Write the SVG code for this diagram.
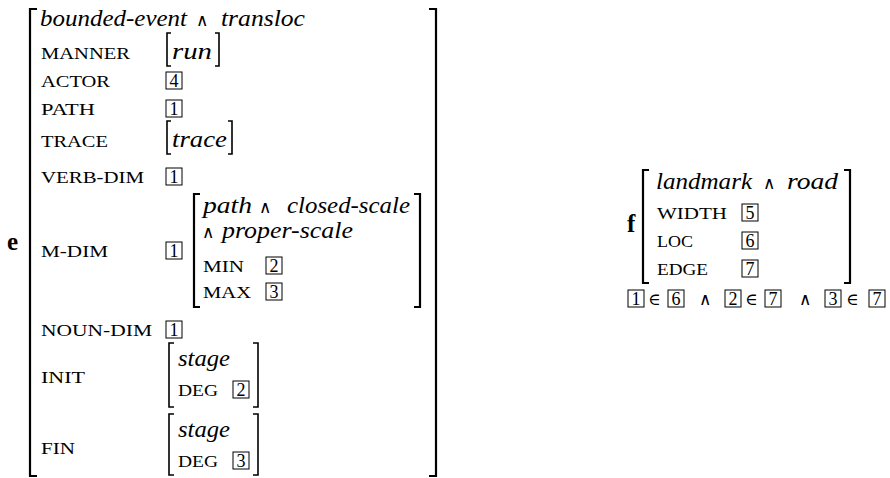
<svg xmlns="http://www.w3.org/2000/svg" width="890" height="478" viewBox="0 0 890 478">
<style>
.it{font-family:"Liberation Serif","DejaVu Serif",serif;font-style:italic;font-size:24px;fill:#000}
.sc{font-family:"Liberation Serif","DejaVu Serif",serif;font-size:17px;fill:#000}
.num{font-family:"Liberation Serif","DejaVu Serif",serif;font-size:18px;text-anchor:middle;fill:#000}
.op{font-family:"DejaVu Serif",serif;font-size:17px;fill:#000}
.el{font-family:"DejaVu Serif",serif;font-size:17px;fill:#000}
.lbl{font-family:"Liberation Serif","DejaVu Serif",serif;font-weight:bold;font-size:25px;fill:#000}
.br{fill:none;stroke:#000;stroke-width:2.2}
.brs{fill:none;stroke:#000;stroke-width:1.6}
.bx{fill:none;stroke:#000;stroke-width:1}
</style>
<defs>
<g id="b1"><rect class="bx" x="0" y="-15" width="16" height="17"/><text class="num" x="8" y="0">1</text></g>
<g id="b2"><rect class="bx" x="0" y="-15" width="16" height="17"/><text class="num" x="8" y="0">2</text></g>
<g id="b3"><rect class="bx" x="0" y="-15" width="16" height="17"/><text class="num" x="8" y="0">3</text></g>
<g id="b4"><rect class="bx" x="0" y="-15" width="16" height="17"/><text class="num" x="8" y="0">4</text></g>
<g id="b5"><rect class="bx" x="0" y="-15" width="16" height="17"/><text class="num" x="8" y="0">5</text></g>
<g id="b6"><rect class="bx" x="0" y="-15" width="16" height="17"/><text class="num" x="8" y="0">6</text></g>
<g id="b7"><rect class="bx" x="0" y="-15" width="16" height="17"/><text class="num" x="8" y="0">7</text></g>
</defs>

<g id="avm-e">
  <text class="lbl" x="7" y="250">e</text>
  <path class="br" d="M37,9 H30 V476 H37"/>
  <path class="br" d="M429,9 H436 V476 H429"/>
  <text class="it" x="40" y="26" textLength="147" lengthAdjust="spacingAndGlyphs">bounded-event</text>
  <text class="op" x="196" y="26">∧</text>
  <text class="it" x="221" y="26" textLength="84" lengthAdjust="spacingAndGlyphs">transloc</text>

  <text class="sc" x="41" y="59" textLength="89" lengthAdjust="spacingAndGlyphs">MANNER</text>
  <path class="brs" d="M171,33 H167 V66 H171"/>
  <text class="it" x="172" y="59" textLength="40" lengthAdjust="spacingAndGlyphs">run</text>
  <path class="brs" d="M215,33 H219 V66 H215"/>

  <text class="sc" x="41" y="87" textLength="69" lengthAdjust="spacingAndGlyphs">ACTOR</text>
  <use href="#b4" x="166" y="87"/>

  <text class="sc" x="41" y="115" textLength="54" lengthAdjust="spacingAndGlyphs">PATH</text>
  <use href="#b1" x="166" y="115"/>

  <text class="sc" x="41" y="147" textLength="67" lengthAdjust="spacingAndGlyphs">TRACE</text>
  <path class="brs" d="M171,121 H167 V154 H171"/>
  <text class="it" x="172" y="147" textLength="55" lengthAdjust="spacingAndGlyphs">trace</text>
  <path class="brs" d="M228,121 H232 V154 H228"/>

  <text class="sc" x="41" y="183" textLength="103" lengthAdjust="spacingAndGlyphs">VERB-DIM</text>
  <use href="#b1" x="166" y="183"/>

  <text class="sc" x="41" y="257" textLength="67" lengthAdjust="spacingAndGlyphs">M-DIM</text>
  <use href="#b1" x="166" y="257"/>
  <path class="br" d="M200,194 H194 V307 H200"/>
  <path class="br" d="M414,194 H420 V307 H414"/>
  <text class="it" x="203" y="213" textLength="49" lengthAdjust="spacingAndGlyphs">path</text>
  <text class="op" x="259" y="213">∧</text>
  <text class="it" x="287" y="213" textLength="123" lengthAdjust="spacingAndGlyphs">closed-scale</text>
  <text class="op" x="202" y="238">∧</text>
  <text class="it" x="222" y="238" textLength="131" lengthAdjust="spacingAndGlyphs">proper-scale</text>
  <text class="sc" x="203" y="272" textLength="41" lengthAdjust="spacingAndGlyphs">MIN</text>
  <use href="#b2" x="266" y="272"/>
  <text class="sc" x="203" y="298" textLength="48" lengthAdjust="spacingAndGlyphs">MAX</text>
  <use href="#b3" x="266" y="298"/>

  <text class="sc" x="41" y="336" textLength="111" lengthAdjust="spacingAndGlyphs">NOUN-DIM</text>
  <use href="#b1" x="166" y="336"/>

  <text class="sc" x="41" y="383" textLength="44" lengthAdjust="spacingAndGlyphs">INIT</text>
  <path class="brs" d="M174,343 H169 V407 H174"/>
  <path class="brs" d="M253,343 H258 V407 H253"/>
  <text class="it" x="178" y="366" textLength="52" lengthAdjust="spacingAndGlyphs">stage</text>
  <text class="sc" x="178" y="396" textLength="40" lengthAdjust="spacingAndGlyphs">DEG</text>
  <use href="#b2" x="233" y="396"/>

  <text class="sc" x="41" y="454" textLength="34" lengthAdjust="spacingAndGlyphs">FIN</text>
  <path class="brs" d="M174,414 H169 V475 H174"/>
  <path class="brs" d="M253,414 H258 V475 H253"/>
  <text class="it" x="178" y="437" textLength="52" lengthAdjust="spacingAndGlyphs">stage</text>
  <text class="sc" x="178" y="467" textLength="40" lengthAdjust="spacingAndGlyphs">DEG</text>
  <use href="#b3" x="233" y="467"/>
</g>

<g id="avm-f">
  <text class="lbl" x="627" y="232">f</text>
  <path class="br" d="M649,170 H643 V283 H649"/>
  <path class="br" d="M844,170 H850 V283 H844"/>
  <text class="it" x="656" y="189" textLength="96" lengthAdjust="spacingAndGlyphs">landmark</text>
  <text class="op" x="763" y="189">∧</text>
  <text class="it" x="787" y="189" textLength="51" lengthAdjust="spacingAndGlyphs">road</text>
  <text class="sc" x="657" y="219" textLength="70" lengthAdjust="spacingAndGlyphs">WIDTH</text>
  <use href="#b5" x="742" y="219"/>
  <text class="sc" x="657" y="247" textLength="36" lengthAdjust="spacingAndGlyphs">LOC</text>
  <use href="#b6" x="742" y="247"/>
  <text class="sc" x="657" y="275" textLength="51" lengthAdjust="spacingAndGlyphs">EDGE</text>
  <use href="#b7" x="742" y="275"/>
</g>

<g id="constraints">
  <use href="#b1" x="628" y="305"/>
  <text class="el" x="648" y="305">∈</text>
  <use href="#b6" x="668" y="305"/>
  <text class="op" x="699" y="305">∧</text>
  <use href="#b2" x="725" y="305"/>
  <text class="el" x="745" y="305">∈</text>
  <use href="#b7" x="765" y="305"/>
  <text class="op" x="799" y="305">∧</text>
  <use href="#b3" x="825" y="305"/>
  <text class="el" x="846" y="305">∈</text>
  <use href="#b7" x="869" y="305"/>
</g>
</svg>
